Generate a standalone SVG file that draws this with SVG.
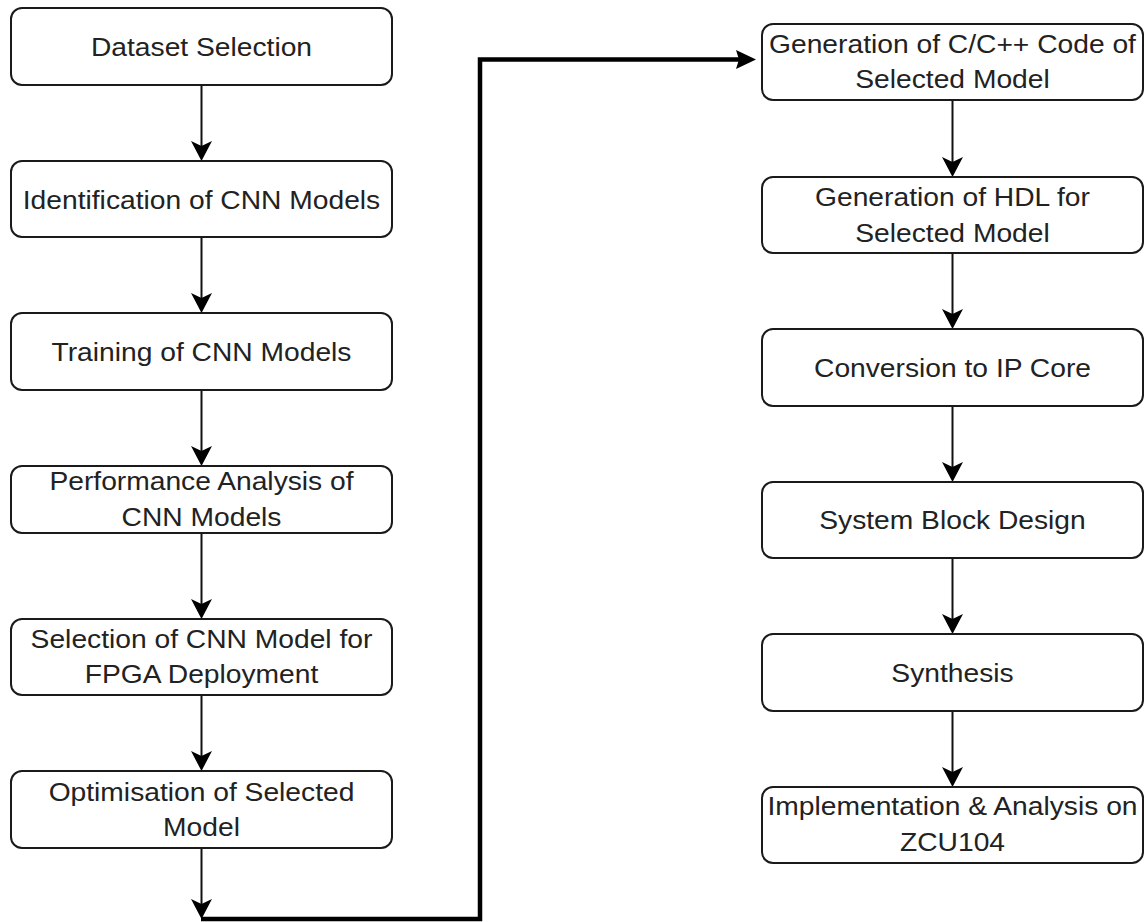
<svg xmlns="http://www.w3.org/2000/svg" width="1146" height="922" viewBox="0 0 1146 922">
<style>
.box{fill:#ffffff;stroke:#1a1a1a;stroke-width:2}
.lbl{font-family:"Liberation Sans",Arial,sans-serif;font-size:26.5px;fill:#222222;text-anchor:middle}
.edge{fill:none;stroke:#111111;stroke-width:2}
.thick{fill:none;stroke:#000000;stroke-width:4.5}
</style>
<defs>
<marker id="arr" viewBox="0 0 20 21" refX="15" refY="10.5" markerWidth="20" markerHeight="21" markerUnits="userSpaceOnUse" orient="auto">
<path d="M0,0 L20,10.5 L0,21 L5,10.5 Z" fill="#000"/>
</marker>
<marker id="arrT" viewBox="0 0 20 19" refX="12" refY="9.5" markerWidth="20" markerHeight="19" markerUnits="userSpaceOnUse" orient="auto">
<path d="M0,0 L20,9.5 L0,19 L3,9.5 Z" fill="#000"/>
</marker>
</defs>
<rect width="1146" height="922" fill="#ffffff"/>
<g id="connectors">
<path class="edge" d="M201.5,85 V156" marker-end="url(#arr)"/>
<path class="edge" d="M201.5,237 V308" marker-end="url(#arr)"/>
<path class="edge" d="M201.5,390 V461" marker-end="url(#arr)"/>
<path class="edge" d="M201.5,533 V614" marker-end="url(#arr)"/>
<path class="edge" d="M201.5,695 V766" marker-end="url(#arr)"/>
<path class="edge" d="M201.5,848 V914" marker-end="url(#arr)"/>
<path class="thick" d="M201,919 H480 V59.5 H748" marker-end="url(#arrT)"/>
<path class="edge" d="M952.5,100 V172" marker-end="url(#arr)"/>
<path class="edge" d="M952.5,253 V324" marker-end="url(#arr)"/>
<path class="edge" d="M952.5,406 V477" marker-end="url(#arr)"/>
<path class="edge" d="M952.5,558 V629" marker-end="url(#arr)"/>
<path class="edge" d="M952.5,711 V782" marker-end="url(#arr)"/>
</g>
<g id="n1"><rect class="box" x="11" y="8" width="381" height="77" rx="11"/>
<text class="lbl" transform="translate(201.5,56) scale(1.065,1)">Dataset Selection</text></g>
<g id="n2"><rect class="box" x="11" y="161" width="381" height="76" rx="11"/>
<text class="lbl" transform="translate(201.5,208.5) scale(1.065,1)">Identification of CNN Models</text></g>
<g id="n3"><rect class="box" x="11" y="313" width="381" height="77" rx="11"/>
<text class="lbl" transform="translate(201.5,360.5) scale(1.065,1)">Training of CNN Models</text></g>
<g id="n4"><rect class="box" x="11" y="466" width="381" height="67" rx="11"/>
<text class="lbl" transform="translate(201.5,490) scale(1.065,1)">Performance Analysis of</text>
<text class="lbl" transform="translate(201.5,526) scale(1.065,1)">CNN Models</text></g>
<g id="n5"><rect class="box" x="11" y="619" width="381" height="76" rx="11"/>
<text class="lbl" transform="translate(201.5,648) scale(1.065,1)">Selection of CNN Model for</text>
<text class="lbl" transform="translate(201.5,683) scale(1.065,1)">FPGA Deployment</text></g>
<g id="n6"><rect class="box" x="11" y="771" width="381" height="77" rx="11"/>
<text class="lbl" transform="translate(201.5,801) scale(1.065,1)">Optimisation of Selected</text>
<text class="lbl" transform="translate(201.5,836) scale(1.065,1)">Model</text></g>
<g id="n7"><rect class="box" x="762" y="24" width="381" height="76" rx="11"/>
<text class="lbl" transform="translate(952.5,53) scale(1.065,1)">Generation of C/C++ Code of</text>
<text class="lbl" transform="translate(952.5,88) scale(1.065,1)">Selected Model</text></g>
<g id="n8"><rect class="box" x="762" y="177" width="381" height="76" rx="11"/>
<text class="lbl" transform="translate(952.5,206) scale(1.065,1)">Generation of HDL for</text>
<text class="lbl" transform="translate(952.5,241.5) scale(1.065,1)">Selected Model</text></g>
<g id="n9"><rect class="box" x="762" y="329" width="381" height="77" rx="11"/>
<text class="lbl" transform="translate(952.5,376.5) scale(1.065,1)">Conversion to IP Core</text></g>
<g id="n10"><rect class="box" x="762" y="482" width="381" height="76" rx="11"/>
<text class="lbl" transform="translate(952.5,529) scale(1.065,1)">System Block Design</text></g>
<g id="n11"><rect class="box" x="762" y="634" width="381" height="77" rx="11"/>
<text class="lbl" transform="translate(952.5,681.5) scale(1.065,1)">Synthesis</text></g>
<g id="n12"><rect class="box" x="762" y="787" width="381" height="76" rx="11"/>
<text class="lbl" transform="translate(952.5,815) scale(1.065,1)">Implementation &amp; Analysis on</text>
<text class="lbl" transform="translate(952.5,850.5) scale(1.065,1)">ZCU104</text></g>
</svg>
